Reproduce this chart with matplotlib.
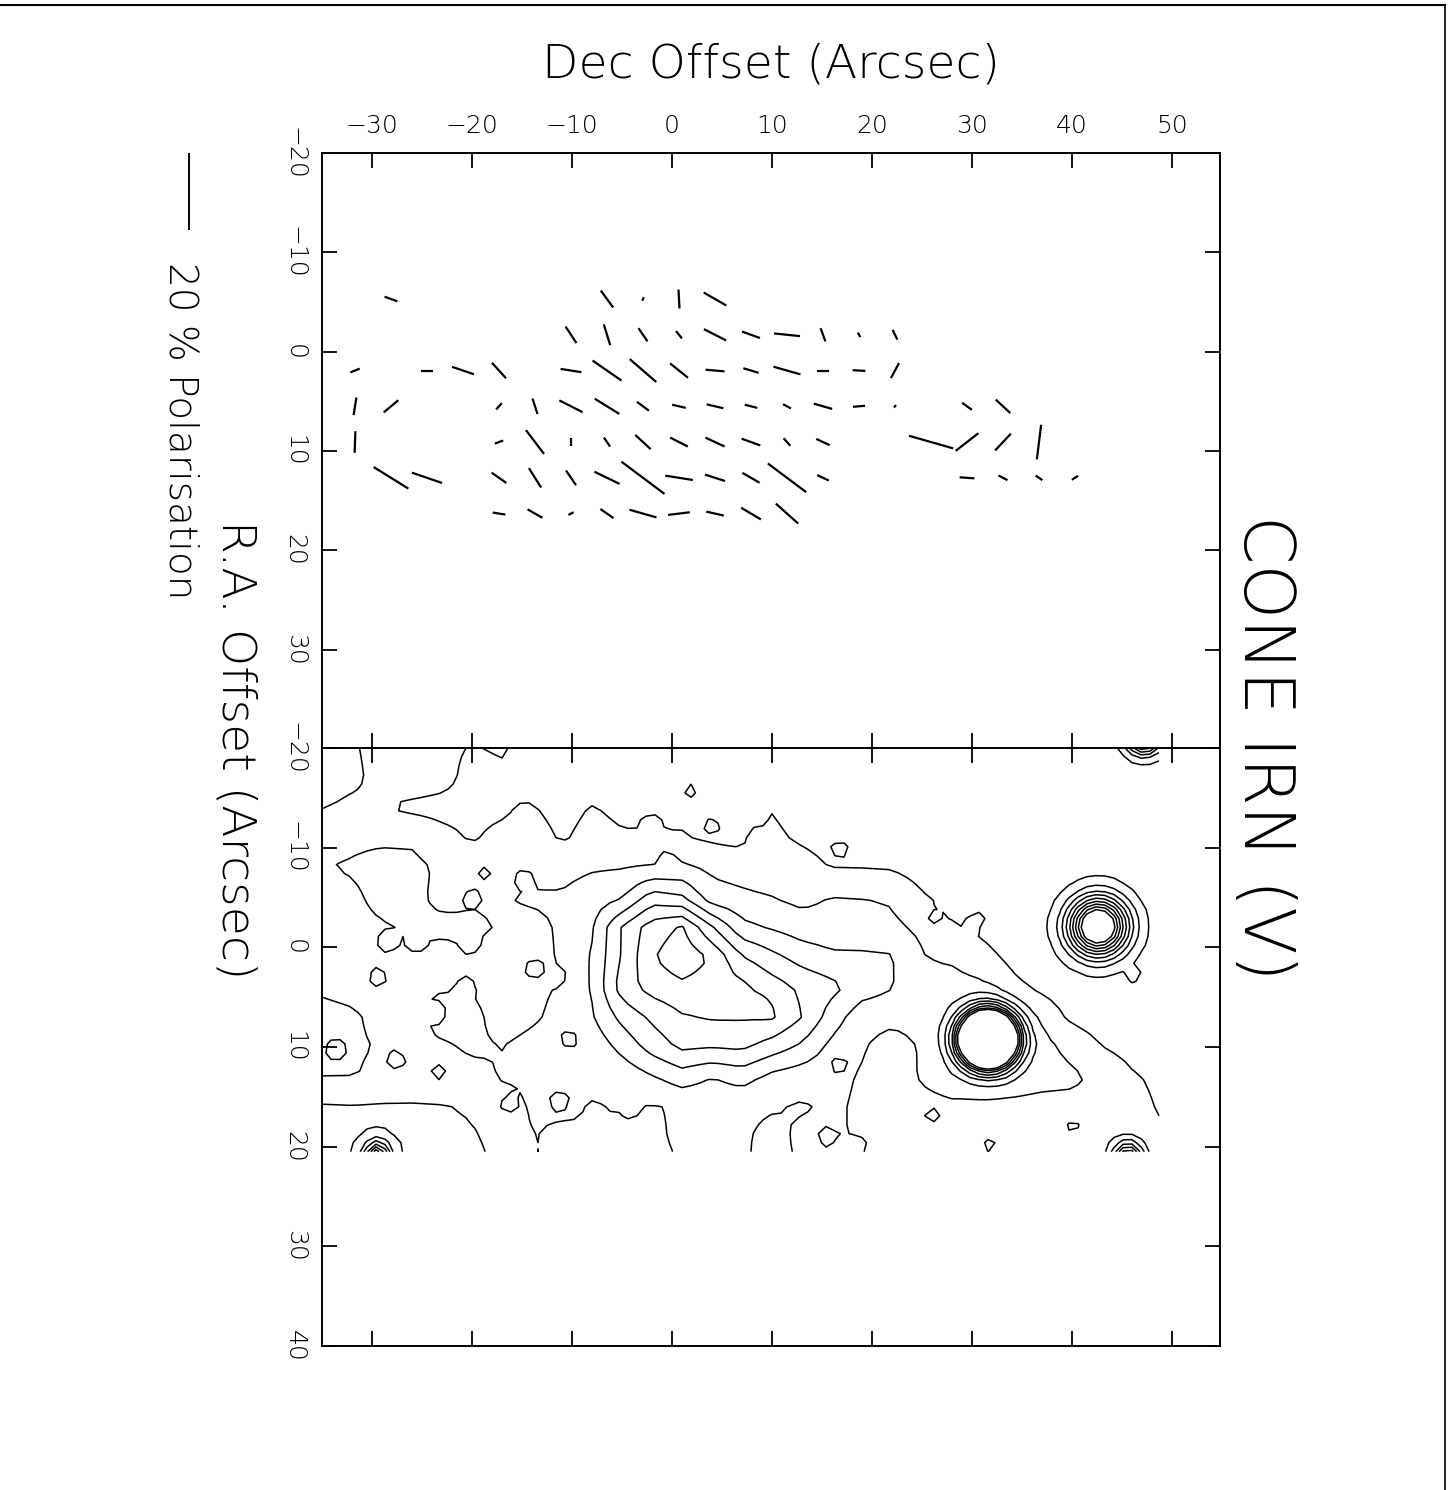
import numpy as np
import matplotlib
matplotlib.use("Agg")
import matplotlib.pyplot as plt
from matplotlib.collections import LineCollection
from matplotlib.lines import Line2D

W, H = 1455, 1490

# ---------------- polarisation vectors (top panel) ----------------
# Dec offset, R.A. offset (arcsec), polarisation (%), angle as drawn (deg)
pol_dec = [-28.1, -6.5, -2.9, 0.7, 4.3,
           -10.1, -6.5, -2.9, 0.7, 4.3, 7.9, 11.5, 15.1, 18.7, 22.3,
           -31.7, -24.5, -20.9, -17.3, -10.1, -6.5, -2.9, 0.7, 4.3, 7.9, 11.5, 15.1, 18.7, 22.3,
           -31.7, -28.1, -17.3, -13.7, -10.1, -6.5, -2.9, 0.7, 4.3, 7.9, 11.5, 15.1, 18.7, 22.3, 29.5, 33.1,
           -31.7, -17.3, -13.7, -10.1, -6.5, -2.9, 0.7, 4.3, 7.9, 11.5, 15.1, 25.9, 29.5, 33.1, 36.7,
           -28.1, -24.5, -17.3, -13.7, -10.1, -6.5, -2.9, 0.7, 4.3, 7.9, 11.5, 15.1, 29.5, 33.1, 36.7, 40.3,
           -17.3, -13.7, -10.1, -6.5, -2.9, 0.7, 4.3, 7.9, 11.5]
pol_ra = [-5.3] * 5 + [-1.7] * 10 + [1.9] * 14 + [5.5] * 16 + [9.1] * 15 + [12.7] * 16 + [16.3] * 9
pol_pct = [3.5, 5.4, 1.0, 4.9, 6.7,
           5.1, 5.6, 4.1, 2.4, 6.4, 4.9, 6.7, 3.6, 1.3, 2.8,
           2.6, 3.1, 5.9, 5.4, 5.4, 9.0, 9.0, 5.9, 4.9, 4.1, 7.2, 3.3, 3.3, 4.4,
           4.6, 4.9, 2.2, 4.2, 6.7, 7.4, 3.8, 3.6, 4.4, 3.3, 2.3, 4.9, 3.1, 0.8, 3.1, 5.1,
           5.6, 2.3, 7.7, 2.1, 2.8, 5.4, 5.1, 5.4, 5.1, 2.6, 3.8, 11.8, 7.4, 5.9, 9.0,
           10.5, 8.2, 4.6, 5.9, 4.6, 7.2, 13.8, 7.2, 5.4, 5.1, 12.3, 3.3, 3.8, 2.6, 2.1, 1.9,
           3.3, 4.4, 1.5, 4.1, 7.2, 5.6, 4.6, 5.9, 7.7]
pol_angle = [-20, -54, 65, -87, -30,
             -57, -73, -56, -51, -27, -20, -6, -70, -60, -64,
             22, 0, -19, -48, -9, -35, -41, -39, -5, -17, -16, 0, -3, 62,
             81, 40, 48, -72, -27, -32, -37, -13, -13, -14, -28, -16, 5, 45, -36, -43,
             88, 21, -53, -90, -56, -43, -27, -25, -20, -48, -25, -16, 38, 47, 83,
             -32, -19, -35, -58, -56, -26, -37, -9, -18, -30, -37, -25, -4, -27, -35, 32,
             -9, -30, 28, -35, -16, 7, -13, -31, -42]
SCALE_PCT = 20.0          # length of the key vector (%)
ARCSEC_PER_PCT = 0.39     # vector length scale

# ---------------- intensity map (bottom panel) ----------------
neb_dec = np.arange(-35, 50, 3)                       # 29 columns
neb_ra = np.append(np.arange(-20, 20, 3), 21)          # 15 rows
neb_level = [
    [0.2, 0.4, 0.8, 0.9, 0.7, 0.45, 0.6, 0.1, 0, 0, 0, 0, 0, 0, 0, 0, 0, 0, 0, 0, 0, 0, 0, 0, 0, 0, 0, 0, 0],
    [0.1, 0.3, 0.8, 1.0, 0.8, 0.2, 0.3, 0.1, 0, 0, 0, 0, 0, 0, 0, 0, 0, 0, 0, 0, 0, 0, 0, 0, 0, 0, 0, 0, 0],
    [0.45, 0.7, 0.55, 0.3, 0.2, 0.2, 0.3, 0.55, 0.2, 0.55, 0.3, 0.2, 0.2, 0.1, 0.1, 0.45, 0.1, 0.1, 0, 0, 0, 0, 0, 0, 0, 0, 0, 0, 0],
    [1.3, 1.3, 1.3, 1.3, 0.8, 0.4, 0.8, 0.9, 0.4, 0.8, 0.6, 0.6, 0.6, 0.3, 0.2, 0.7, 0.35, 0.1, 0, 0, 0, 0, 0, 0, 0, 0, 0, 0, 0],
    [1.45, 1.6, 1.9, 1.8, 1.3, 1.1, 1.0, 1.2, 1.2, 1.4, 1.45, 1.6, 1.7, 1.3, 1.1, 1.0, 0.9, 0.45, 0.45, 0.4, 0.1, 0, 0, 0, 0, 0, 0, 0, 0],
    [1.1, 1.3, 1.8, 1.7, 1.3, 1.3, 1.45, 1.6, 1.6, 2.0, 2.4, 4.0, 3.6, 1.9, 1.7, 1.5, 1.2, 1.55, 1.5, 1.4, 0.6, 0.2, 0, 0, 0, 0, 0, 0, 0],
    [1.1, 1.2, 1.4, 1.6, 1.7, 1.7, 1.4, 1.3, 1.6, 2.4, 4.6, 6.0, 6.6, 4.6, 2.8, 2.4, 2.0, 1.9, 1.8, 1.7, 1.3, 0.6, 0.3, 0, 0, 0, 0, 0, 0],
    [1.2, 1.3, 1.4, 1.3, 1.2, 1.3, 1.2, 1.2, 1.6, 2.6, 4.6, 6.4, 7.2, 6.4, 4.6, 3.8, 3.1, 2.7, 2.7, 2.6, 1.55, 1.3, 0.8, 0.3, 0, 0, 0, 0, 0],
    [1.4, 1.3, 1.2, 1.4, 1.45, 1.4, 1.3, 1.3, 1.6, 2.6, 5.0, 5.9, 6.25, 6.0, 5.8, 5.0, 4.3, 3.8, 3.0, 2.55, 1.9, 2.0, 1.6, 0.7, 0.3, 0, 0, 0, 0],
    [1.7, 1.6, 1.3, 1.3, 1.8, 1.7, 1.2, 1.4, 1.7, 2.4, 3.8, 4.7, 5.4, 5.6, 5.6, 5.6, 4.5, 3.0, 1.9, 1.8, 1.9, 2.0, 1.8, 1.7, 1.1, 0.3, 0, 0, 0],
    [1.7, 1.6, 1.45, 1.3, 1.4, 1.6, 1.5, 1.7, 1.8, 1.8, 2.8, 3.9, 4.7, 4.6, 4.7, 4.0, 3.3, 2.2, 1.6, 1.0, 1.6, 2.0, 2.0, 2.0, 1.8, 1.2, 0.5, 0.2, 0],
    [1.55, 1.55, 1.3, 1.2, 1.2, 1.3, 1.55, 1.6, 1.7, 1.7, 1.8, 2.4, 3.0, 2.5, 2.9, 2.2, 1.9, 1.8, 1.4, 1.0, 1.6, 2.0, 1.8, 2.0, 1.8, 1.7, 1.2, 0.6, 0.3],
    [0.4, 0.45, 0.4, 0.4, 0.45, 0.6, 1.2, 1.55, 1.7, 1.65, 1.5, 1.45, 1.6, 1.8, 1.7, 1.6, 1.4, 1.7, 1.3, 1.1, 1.2, 1.3, 1.3, 1.2, 1.2, 1.2, 1.3, 0.8, 0.4],
    [0.3, 0.4, 0.4, 0.4, 0.3, 0.4, 0.8, 1.55, 1.3, 1.2, 1.2, 1.3, 1.7, 1.7, 1.65, 1.2, 1.7, 1.7, 1.3, 1.2, 1.1, 1.0, 1.0, 0.9, 0.9, 1.0, 1.1, 1.0, 0.6],
    [0.3, 0.4, 0.4, 0.4, 0.3, 0.3, 0.7, 1.55, 1.3, 1.2, 1.1, 1.2, 1.6, 1.7, 1.6, 1.25, 1.6, 1.6, 1.3, 1.1, 1.0, 1.0, 1.0, 0.8, 0.8, 0.9, 1.0, 1.0, 0.8],
]

# point sources: position (arcsec), peak, width
star_dec = [31.6, 42.6, 45.6, -29.5, 47.2]
star_ra = [9.2, -2.1, 21.0, 20.7, -21.2]
star_peak = [27.4, 12.3, 6.0, 6.0, 8.8]
star_width = [1.77, 1.98, 1.0, 0.85, 1.17]

# small isolated knots / hollows
knot_dec = [-18.7, -14.9, -28.5, -25.5, -20.3, -29.4, -13.9, -11.2, -20.6, -10.2, -27.5, -23.4,
            -11.2, -7.9, -4.2, -16.5, -33.7, 1.8, -2.0, -0.5, 4.1, 8.1, 16.8, 9.3, 16.5, 15.5,
            18.6, 26.0, 30.6, 46.3, 26.0, 40.1, 31.8, -15.0, -23.4, -20.0]
knot_ra = [-7.6, -7.0, -0.6, -0.4, 0.0, 3.1, 2.1, 2.9, 3.9, 9.2, 11.4, 12.7,
           15.4, 16.4, 16.2, 15.9, 10.2, -15.8, -12.5, -9.6, -12.3, -11.1, -10.0, 5.7, 11.7, 18.9,
           19.9, -2.8, -2.9, 2.9, 16.9, 18.2, 19.9, -13.4, 6.7, -5.1]
KNOT_WIDTH = 0.6

LEVELS = np.arange(0.5, 9.0, 1.0)
PIXEL = 0.9               # sampling of the map (arcsec)

# ---------------- figure ----------------
plt.rcParams['font.family'] = ['DejaVu Sans']
plt.rcParams['font.weight'] = 200
fig = plt.figure(figsize=(W / 100, H / 100), dpi=100)

ax1 = fig.add_axes([322 / W, 1 - 748 / H, 898 / W, 595 / H])
ax2 = fig.add_axes([322 / W, 1 - 1346 / H, 898 / W, 598 / H])

for ax in (ax1, ax2):
    ax.set_xlim(-35, 54.8)
    ax.set_xticks(np.arange(-30, 51, 10))
    ax.tick_params(direction='in', length=11, width=1.3, top=True, bottom=True,
                   left=True, right=True, labelsize=18, pad=11)
    for sp in ax.spines.values():
        sp.set_linewidth(1.4)

ax1.set_ylim(39.9, -20)
ax1.set_yticks(np.arange(-20, 31, 10))
ax1.tick_params(labeltop=True, labelbottom=False)
ax2.set_ylim(40, -20)
ax2.set_yticks(np.arange(-20, 41, 10))
ax2.tick_params(labeltop=False, labelbottom=False)
for ax in (ax1, ax2):
    for lab in ax.get_yticklabels():
        lab.set_rotation(-90)
        lab.set_va('center')
        lab.set_ha('right')

# polarisation vectors
ang = np.radians(pol_angle)
half = np.asarray(pol_pct) * ARCSEC_PER_PCT / 2
dx = half * np.cos(ang)
dy = -half * np.sin(ang)
x0 = np.asarray(pol_dec)
y0 = np.asarray(pol_ra)
segs = np.stack([np.column_stack([x0 - dx, y0 - dy]), np.column_stack([x0 + dx, y0 + dy])], axis=1)
ax1.add_collection(LineCollection(segs, colors='black', linewidths=1.6, capstyle='butt'))

# key vector and its label
key_x = -48.3
ax1.plot([key_x, key_x], [-20, -20 + SCALE_PCT * ARCSEC_PER_PCT], color='black', lw=1.4,
         clip_on=False, solid_capstyle='butt')
fig.text(180 / W, 1 - 262 / H, f"{SCALE_PCT:.0f} % Polarisation", rotation=-90,
         ha='center', va='top', fontsize=28)

# intensity map
gx = np.arange(-35, 48.81, PIXEL)
gy = np.arange(-20, 21.2, PIXEL)
neb = np.asarray(neb_level, dtype=float)
rows = np.array([np.interp(gx, neb_dec, r) for r in neb])
base = np.array([np.interp(gy, neb_ra, rows[:, i]) for i in range(gx.size)]).T
GX, GY = np.meshgrid(gx, gy)
field = base.copy()

for kx, ky in zip(knot_dec, knot_ra):
    ix = np.argmin(np.abs(gx - kx))
    iy = np.argmin(np.abs(gy - ky))
    b = base[iy, ix]
    t = LEVELS[np.argmin(np.abs(LEVELS - b))]
    amp = (t - b) + 0.35 * np.sign(t - b if t != b else 1.0)
    field += amp * np.exp(-((GX - kx) ** 2 + (GY - ky) ** 2) / (2 * KNOT_WIDTH ** 2))

for sx, sy, sp_, sw in zip(star_dec, star_ra, star_peak, star_width):
    field += sp_ * np.exp(-((GX - sx) ** 2 + (GY - sy) ** 2) / (2 * sw ** 2))

ax2.contour(GX, GY, field, levels=LEVELS, colors='black', linewidths=1.1)

# titles
fig.text(771 / W, 1 - 65 / H, "Dec Offset (Arcsec)", ha='center', va='center', fontsize=34)
fig.text(235 / W, 1 - 750 / H, "R.A. Offset (Arcsec)", rotation=-90, ha='center',
         va='center', fontsize=34)
fig.text(1263 / W, 1 - 748 / H, "CONE IRN (V)", rotation=-90, ha='center', va='center',
         fontsize=50)

# sheet edges
fig.add_artist(Line2D([0, 1445 / W], [1 - 5 / H, 1 - 5 / H], color='black', lw=1.5))
fig.add_artist(Line2D([1445 / W, 1445 / W], [0, 1 - 5 / H], color='black', lw=1.2))

fig.savefig("out.png", dpi=100)
